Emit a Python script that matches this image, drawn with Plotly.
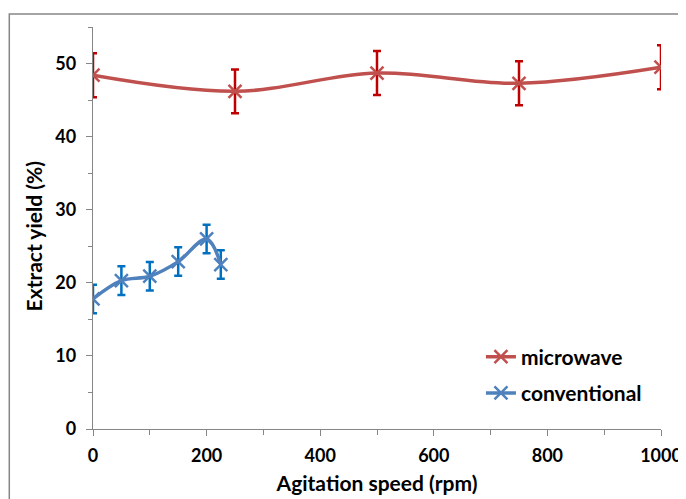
import plotly.graph_objects as go

# Data
mw_speed = [0, 250, 500, 750, 1000]
mw_yield = [48.4, 46.2, 48.7, 47.3, 49.5]
mw_err = [3.0, 3.0, 3.0, 3.0, 3.0]

cv_speed = [0, 50, 100, 150, 200, 225]
cv_yield = [17.8, 20.3, 20.9, 22.9, 26.0, 22.5]
cv_err = [1.95, 1.95, 1.95, 1.95, 1.95, 1.95]

FONT = "Lato"

fig = go.Figure()
fig.add_trace(go.Scatter(
    x=mw_speed, y=mw_yield, name="microwave", mode="lines+markers", legendgroup="mw",
    line=dict(color="#C0504D", width=3.5, shape="spline", smoothing=1),
    marker=dict(symbol="x-thin-open", size=13, color="#C0504D",
                line=dict(color="#C0504D", width=2.5)),
    error_y=dict(type="data", array=mw_err, color="#C00000", thickness=2.5, width=4),
))
fig.add_trace(go.Scatter(
    x=cv_speed, y=cv_yield, name="conventional", mode="lines+markers", legendgroup="cv",
    line=dict(color="#4F81BD", width=3.5, shape="spline", smoothing=1),
    marker=dict(symbol="x-thin-open", size=13, color="#4F81BD",
                line=dict(color="#4F81BD", width=2.5)),
    error_y=dict(type="data", array=cv_err, color="#0070C0", thickness=2.5, width=4),
))

axis_common = dict(
    showline=True, linecolor="#868686", linewidth=1.3,
    ticks="outside", tickcolor="#868686", ticklen=6, tickwidth=1,
    showgrid=False, zeroline=False,
    tickfont=dict(family=FONT, size=18, color="#000000", weight="bold"),
)

fig.update_xaxes(
    range=[0, 1000], tickmode="array", tickvals=[0, 200, 400, 600, 800, 1000],
    minor=dict(ticks="outside", tickvals=[100, 300, 500, 700, 900], ticklen=5, tickcolor="#868686"),
    ticklabelstandoff=4,
    title=dict(text="Agitation speed (rpm)", font=dict(family=FONT, size=21, color="#000", weight="bold"),
               standoff=11),
    **axis_common,
)
fig.update_yaxes(
    range=[0, 55], tickmode="array", tickvals=[0, 10, 20, 30, 40, 50],
    minor=dict(ticks="outside", tickvals=[5, 15, 25, 35, 45, 55], ticklen=4, tickcolor="#868686"),
    ticklabelstandoff=6,
    **axis_common,
)

fig.update_layout(
    width=686, height=499,
    margin=dict(l=85, r=31, t=19, b=78),
    paper_bgcolor="white", plot_bgcolor="white",
    showlegend=True,
    legend=dict(x=0.683, y=0.23, xanchor="left", yanchor="top",
                font=dict(family=FONT, size=21, color="#000", weight="bold"),
                bgcolor="rgba(0,0,0,0)", tracegroupgap=6),
    annotations=[dict(text="Extract yield (%)", xref="paper", yref="paper",
                      x=-0.105, y=0.48, xanchor="center", yanchor="middle",
                      textangle=-90, showarrow=False,
                      font=dict(family=FONT, size=21, color="#000", weight="bold"))],
    shapes=[dict(type="rect", xref="paper", yref="paper",
                 x0=-84/570, x1=1.2, y0=-0.3, y1=1 + 13/402,
                 line=dict(color="#868686", width=1.5), fillcolor="rgba(0,0,0,0)")],
)

fig.write_html("out.html")
